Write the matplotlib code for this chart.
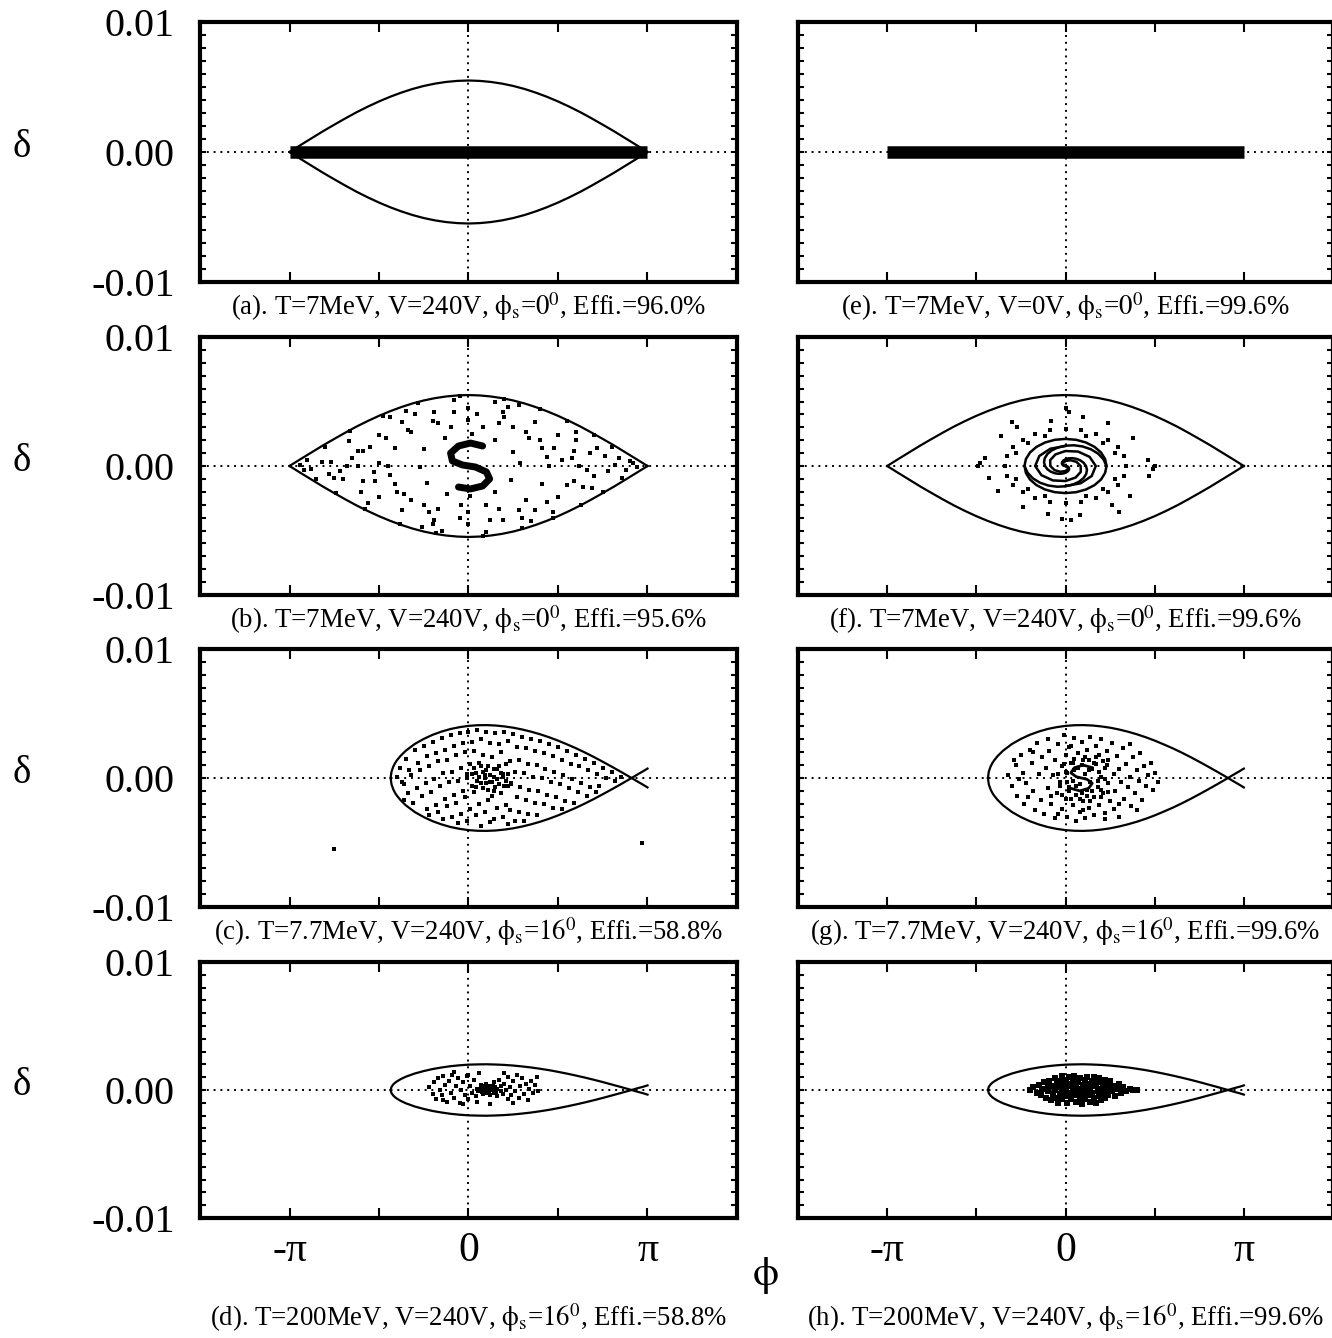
import numpy as np
import matplotlib
matplotlib.use('Agg')
import matplotlib.pyplot as plt
from matplotlib.ticker import MultipleLocator

plt.rcParams['font.family'] = ['Liberation Serif', 'DejaVu Serif']
plt.rcParams['mathtext.fontset'] = 'stix'

PI = np.pi
# phase values in percent of pi, energy deviation in units of 1e-4

# ---- separatrix, phi_s = 0 (upper half, phase >= 0, symmetric) ----
lens_phi = [0, 6.25, 12.5, 18.75, 25, 31.25, 37.5, 43.75, 50, 56.25, 62.5,
            68.75, 75, 81.25, 87.5, 93.75, 100]
lens_del = [55, 54.7, 53.9, 52.6, 50.8, 48.5, 45.7, 42.5, 38.9, 34.9, 30.6,
            25.9, 21.0, 16.0, 10.7, 5.4, 0]

# ---- separatrix, phi_s = 16 deg (upper branch) ----
buck_phi = [-43.5, -43, -42, -41, -40, -38, -35, -30, -25, -20, -15, -10, -5, 0,
            5, 10, 15, 20, 25, 30, 35, 40, 45, 50, 55, 60, 65, 70, 75, 80, 85,
            88, 91.1, 95, 97.5, 100]
buck_c = [0, 5.0, 8.9, 11.6, 13.7, 17.1, 21.2, 26.4, 30.3, 33.5, 36.0, 38.0, 39.4,
          40.4, 40.9, 41.0, 40.7, 40.0, 39.0, 37.6, 35.9, 33.9, 31.6, 29.0, 26.1,
          23.1, 19.8, 16.3, 12.6, 8.8, 4.9, 2.5, 0, -3.2, -5.2, -7.3]
buck_d = [0, 2.5, 4.4, 5.7, 6.7, 8.4, 10.4, 12.9, 14.8, 16.4, 17.6, 18.6, 19.3,
          19.8, 20.0, 20.1, 19.9, 19.6, 19.1, 18.4, 17.6, 16.6, 15.5, 14.2, 12.8,
          11.3, 9.7, 8.0, 6.2, 4.3, 2.4, 1.2, 0, -1.6, -2.5, -3.6]

# ---- initial line of particles (a), (e) ----
band_phi = [-100, 100]
band_del = [0, 0]

# ---- (b) particles ----
b_pts = [(29, 2), (25, 11), (15, 20), (2, 25), (-13, 22), (-25, 13), (-27, -1), (-23, -13),
         (-12, -22), (1, -23), (15, -20), (24, -11),
         (45, 0), (41, 14), (32, 26), (17, 33), (0, 36), (-17, 33), (-32, 26), (-41, 14),
         (-45, 0), (-41, -14), (-32, -26), (-17, -33), (0, -36), (17, -33), (32, -26),
         (41, -14), (44, 7), (-44, -7), (25, 30), (-25, -30),
         (62, 0), (59, 12), (50, 24), (37, 34), (19, 42), (0, 45), (-19, 42), (-37, 34),
         (-50, 24), (-59, 12), (-62, 0), (-59, -12), (-50, -24), (-37, -34), (-19, -42),
         (0, -45), (19, -42), (37, -34), (50, -24), (59, -12),
         (76, 8), (69, -17), (60, 26), (47, -36), (28, 47), (10, -51), (-8, 51), (-26, -47),
         (-44, 38), (-56, -29), (-67, 19), (-75, -9), (-77, 3), (72, 14), (-35, 43),
         (35, -43), (15, 50), (-15, -50),
         (90, 4), (86, -9), (80, 15), (75, -20), (70, 24), (63, -30), (55, 35), (47, -40),
         (40, 44), (30, -48), (20, 52), (8, -54), (-5, 54), (-18, -52), (-28, 49),
         (-38, -45), (-48, 39), (-58, -33), (-66, 27), (-74, -21), (-80, 15), (-85, -10),
         (-90, 5), (-94, 1), (94, -1),
         (-88, -2), (-82, 3), (-72, -4), (-65, 6), (-53, -5), (-50, 2), (52, 5), (66, -3),
         (82, 1), (88, -3), (70, -8), (-40, -20), (40, 20), (-30, 40), (30, -40),
         (-10, 30), (10, -30), (-55, 15), (55, -15), (-70, -10), (68, 10), (-20, -45),
         (22, 46), (5, 40), (-5, -40), (-60, -20), (60, 20),
         (-78, -6), (-62, 12), (-46, 22), (-34, 28), (-20, 35), (-8, 42), (8, 30), (20, 38),
         (34, 22), (48, 14), (58, 6), (78, -4), (64, -16), (44, -28), (28, -34), (12, -42),
         (-4, -30), (-22, -36), (-36, -22), (-52, -12), (-68, 0), (84, 6), (-92, -3), (92, 2)]
b_core = [(7.9, 15.5), (1.1, 17.8), (-5.6, 15.5), (-10, 10), (-9, 3.9), (-3.4, 0.8),
          (3.9, -0.8), (10, -4.6), (11.8, -10), (7.9, -15.5), (1.1, -17.8), (-5.6, -16.3)]

# ---- (c) particles ----
c_pts = [(-38, 8), (-36, -5), (-40, 1),
         (-35, 15), (-33, 6), (-37, -3), (-34, -12), (-36, -17),
         (-30, 22), (-28, 12), (-32, 2), (-29, -8), (-31, -19),
         (-25, 25), (-23, 17), (-27, 6), (-24, -4), (-26, -14), (-23, -24),
         (-20, 28), (-18, 19), (-22, 9), (-19, -1), (-21, -11), (-18, -21), (-22, -29),
         (-15, 31), (-13, 22), (-17, 13), (-14, 4), (-16, -6), (-13, -16), (-17, -26), (-14, -32),
         (-10, 33), (-8, 25), (-12, 14), (-9, 5), (-11, -3), (-8, -13), (-12, -22), (-9, -30),
         (-5, 35), (-3, 27), (-7, 18), (-4, 8), (-6, -2), (-3, -10), (-7, -19), (-4, -28), (-6, -35),
         (0, 36), (2, 28), (-2, 20), (1, 11), (-1, 3), (2, -6), (-2, -15), (1, -24), (-1, -33),
         (5, 37), (7, 30), (3, 21), (6, 12), (4, 4), (7, -4), (3, -11), (6, -20), (4, -29), (7, -37),
         (10, 36), (12, 27), (8, 18), (11, 9), (9, 2), (12, -3), (8, -8), (11, -17), (9, -26), (12, -34),
         (15, 35), (17, 26), (13, 16), (16, 7), (14, 1), (17, -5), (13, -14), (16, -23), (14, -32),
         (20, 36), (22, 29), (18, 20), (21, 11), (19, 3), (22, -6), (18, -12), (21, -21), (19, -30), (22, -36),
         (25, 34), (27, 24), (23, 13), (26, 5), (24, -4), (27, -15), (23, -25), (26, -33),
         (30, 32), (32, 23), (28, 14), (31, 4), (29, -7), (32, -17), (28, -26), (31, -33),
         (35, 30), (37, 21), (33, 11), (36, 1), (34, -9), (37, -19), (33, -28),
         (40, 29), (42, 19), (38, 10), (41, 0), (39, -10), (42, -20), (38, -29),
         (45, 26), (47, 17), (43, 7), (46, -3), (44, -13), (47, -23),
         (50, 24), (52, 14), (48, 5), (51, -5), (49, -15), (52, -24),
         (55, 21), (57, 11), (53, 2), (56, -8), (54, -18),
         (60, 18), (62, 9), (58, -1), (61, -11), (59, -19),
         (65, 15), (67, 6), (63, -4), (66, -14),
         (70, 12), (72, 3), (68, -7), (71, -11),
         (75, 8), (77, 0), (73, -6), (80, 5), (82, -2), (85, 1)]
c_core = [(2, 3), (5, -2), (8, 5), (10, -4), (12, 2), (14, 7), (16, -1), (18, 4), (20, -6),
          (7, 9), (11, -9), (15, -7), (4, -7), (9, 0), (13, -3), (17, 9), (19, 1), (6, 1),
          (22, 3), (3, 8), (21, -2), (10, 6), (14, -10), (-1, 0), (24, -5)]
c_out = [(-75, -55), (97, -50)]

# ---- (d) particles ----
d_pts = [(-22, 2), (-20, -3), (-19, 6), (-18, -7), (-17, 9), (-16, 0), (-15, -4), (-14, 11),
         (-13, 4), (-12, -9), (-11, 7), (-10, -2), (-9, 12), (-8, -6), (-7, 3), (-6, 9),
         (-5, -10), (-4, 0), (-3, 6), (-2, -4), (-1, 11), (0, -7), (1, 3), (2, -2), (3, 8),
         (4, -5), (5, 1), (6, -1), (7, 4), (8, -3), (8, 2), (9, 0), (10, -2), (10, 5),
         (11, 1), (12, -4), (12, 3), (13, 0), (14, 6), (14, -2), (15, 2), (16, -5), (16, 1),
         (17, 8), (18, -1), (18, 3), (19, -3), (20, 5), (21, 0), (22, -7), (22, 10), (23, 2),
         (24, -4), (25, 7), (26, -1), (27, 12), (28, -6), (29, 3), (30, 9), (31, -3), (32, 5),
         (33, -8), (34, 1), (35, 7), (36, -2), (37, 4), (38, 10), (39, -1), (-8, 14), (6, 13),
         (20, 13), (0, 12), (-14, -8), (5, -9), (25, -10), (12, -11), (-3, -11)]
d_core = [(6, 0), (9, 2), (11, -1), (13, 2), (15, -1), (8, -1), (12, 1), (10, 0)]

# ---- (f) particles ----
f_arm = [(0, 0), (0.93, -0.23), (1.66, -0.88), (2.03, -1.86), (1.92, -3.03), (1.24, -4.22),
         (0, -5.25), (-1.74, -5.92), (-3.83, -6.06), (-6.1, -5.57), (-8.3, -4.38),
         (-10.18, -2.49), (-11.5, 0), (-12.04, 2.95), (-11.62, 6.12), (-10.16, 9.28),
         (-7.67, 12.12), (-4.21, 14.36), (0, 15.75), (4.71, 16.06), (9.58, 15.15),
         (14.23, 12.99), (18.26, 9.63), (21.28, 5.21), (23, 0), (22.2, -5.4), (19.9, -10.5),
         (16.3, -14.8), (11.5, -18.2), (6, -20.3), (0, -21), (-6, -20.3), (-11.5, -18.2),
         (-16.3, -14.8), (-19.9, -10.5), (-22.2, -5.4), (-23, 0)]
f_arm_b = [(0, 0), (1.23, -0.65), (1.42, -2.24), (0, -3.88), (-2.83, -4.47), (-6.13, -3.23),
           (-8.5, 0), (-8.59, 4.52), (-5.67, 8.95), (0, 11.63), (7.08, 11.18), (13.5, 7.1),
           (17, 0), (14.7, -7.75), (8.5, -13.4), (0, -15.5)]
f_ring = [(34, 0), (33, 7.5), (29.4, 14.5), (24, 20.5), (17, 25), (8.8, 28), (0, 29),
          (-8.8, 28), (-17, 25), (-24, 20.5), (-29.4, 14.5), (-33, 7.5), (-34, 0),
          (-33, -7.5), (-29.4, -14.5), (-24, -20.5), (-17, -25), (-8.8, -28), (0, -29),
          (8.8, -28), (17, -25), (24, -20.5), (29.4, -14.5), (33, -7.5),
          (27.7, 9.8), (21.2, 18), (11.5, 23.6), (-11.5, 23.6), (-21.2, 18), (-27.7, 9.8),
          (-27.7, -9.8), (-21.2, -18), (-11.5, -23.6), (11.5, -23.6), (21.2, -18), (27.7, -9.8)]
f_dots = [(46, 5), (38, 22), (24, 33), (10, 38), (-8, 35), (-27, 30), (-36, 23), (-45, 6),
          (-43, -9), (-38, -19), (-24, -32), (-10, -37), (8, -38), (26, -30), (36, -23),
          (47, -8), (2, 42), (-2, -41), (50, 0), (-48, 2), (30, -36), (-30, 34), (0, 45),
          (3, -42), (-49, 0), (49, -2)]

# ---- (g) particles ----
g_pts = [(-32, 2), (-30, -6), (-28, 10), (-27, -14), (-25, 18), (-24, 4), (-23, -20), (-22, -4),
         (-20, 22), (-19, 12), (-18, -10), (-17, -25), (-16, 27), (-15, 3), (-14, -17),
         (-13, 16), (-12, -28), (-11, 8), (-10, 30), (-10, -8), (-9, 21), (-8, -20), (-7, 2),
         (-6, 14), (-6, -31), (-5, -12), (-4, 26), (-3, -3), (-2, 9), (-2, -24), (-1, 33),
         (0, 18), (0, -16), (1, 4), (1, -30), (2, -7), (3, 25), (3, 12), (4, -21), (4, -2),
         (5, 31), (5, 6), (6, -13), (6, -33), (7, 19), (8, -5), (8, -26), (9, 28), (9, 10),
         (10, -18), (11, 3), (11, -31), (12, 22), (12, -9), (13, 14), (13, -23), (14, 32),
         (14, -3), (15, 7), (16, -15), (16, -29), (17, 25), (17, 11), (18, -7), (19, 18),
         (19, -21), (20, 1), (20, 30), (21, -12), (22, 8), (22, -27), (23, 21), (24, -4),
         (24, 14), (25, -18), (26, 27), (27, 3), (27, -24), (28, -10), (29, 17), (30, 7),
         (30, -30), (31, -3), (32, 23), (33, -16), (34, 11), (35, -7), (36, 26), (36, 1),
         (37, -22), (38, 16), (39, -12), (40, 6), (41, -2), (42, 19), (43, -17), (44, 9),
         (45, -6), (46, 2), (48, 12), (49, -9), (50, 4), (52, -3), (-26, -1), (-21, -15),
         (-29, 14), (-18, 20), (-8, -14), (-4, -28), (2, 24), (10, -25), (22, -32),
         (30, -20), (40, -25),
         (0, 5), (2, -10), (4, 12), (6, -6), (7, 8), (9, -12), (10, 14), (12, -14), (13, 6),
         (15, -10), (16, 12), (18, -2), (19, 5), (20, -9), (21, 13), (22, -1), (23, 10),
         (-3, -6), (-1, 11), (-2, -13), (1, -3), (3, -16), (5, 15), (8, -16), (11, 16),
         (14, -18), (17, 16), (20, -15), (24, -11), (-4, 3)]
g_s = [(15, 8), (10, 10), (5, 8), (3, 4), (6, 1), (12, -1), (15, -4), (13, -8), (8, -10), (3, -8)]

# ---- (h) particles ----
h_pts = [(-20, 0), (-18, 2), (-16, -2), (-15, 4), (-14, -4), (-13, 1), (-12, 6), (-11, -6),
         (-10, 2), (-10, -1), (-9, 7), (-8, -8), (-8, 3), (-7, -3), (-6, 9), (-6, 0), (-5, -6),
         (-5, 5), (-4, -10), (-4, 2), (-3, 7), (-3, -3), (-2, 11), (-2, -7), (-1, 4), (-1, -1),
         (0, 8), (0, -5), (0, 1), (1, -10), (1, 5), (2, -2), (2, 10), (3, 3), (3, -7), (4, 7),
         (4, -1), (5, -4), (5, 11), (6, 2), (6, -9), (7, 6), (7, -2), (8, -6), (8, 9), (9, 1),
         (9, -11), (10, 4), (10, -3), (11, 8), (11, -7), (12, 0), (12, 10), (13, -4), (13, 5),
         (14, -9), (14, 2), (15, 7), (15, -2), (16, -6), (16, 10), (17, 3), (17, -10),
         (18, -1), (18, 6), (19, -5), (19, 9), (20, 1), (20, -8), (21, 5), (21, -3), (22, 8),
         (22, -6), (23, 0), (24, 4), (24, -4), (25, 7), (26, -1), (27, 3), (28, -5), (29, 1),
         (30, 5), (31, -2), (32, 2), (34, -1), (36, 1), (38, 0), (40, 0), (-2, 0), (4, 3),
         (8, 0), (11, 2), (14, -1)]

PH = r"$\mathrm{\phi}_\mathrm{s}$"
captions = {
    'a': "(a). T=7MeV, V=240V, " + PH + "=$0^0$, Effi.=96.0%",
    'b': "(b). T=7MeV, V=240V, " + PH + "=$0^0$, Effi.=95.6%",
    'c': "(c). T=7.7MeV, V=240V, " + PH + "=$16^0$, Effi.=58.8%",
    'd': "(d). T=200MeV, V=240V, " + PH + "=$16^0$, Effi.=58.8%",
    'e': "(e). T=7MeV, V=0V, " + PH + "=$0^0$, Effi.=99.6%",
    'f': "(f). T=7MeV, V=240V, " + PH + "=$0^0$, Effi.=99.6%",
    'g': "(g). T=7.7MeV, V=240V, " + PH + "=$16^0$, Effi.=99.6%",
    'h': "(h). T=200MeV, V=240V, " + PH + "=$16^0$, Effi.=99.6%",
}
ytick_vals = [-0.01, 0.0, 0.01]
ytick_labels = ['-0.01', '0.00', '0.01']
xtick_labels = ['-\u03c0', '', '0', '', '\u03c0']


def X(v):
    return np.asarray(v, dtype=float) * PI / 100.0


def Y(v):
    return np.asarray(v, dtype=float) * 1e-4


def xy(pts):
    p = np.asarray(pts, dtype=float)
    return X(p[:, 0]), Y(p[:, 1])


W, H = 1332, 1338
fig = plt.figure(figsize=(W / 100, H / 100), dpi=100)

rows_px = [(22, 282), (337, 595), (649, 907), (962, 1218)]
cols_px = [(200, 737), (798, 1333)]
names = [['a', 'b', 'c', 'd'], ['e', 'f', 'g', 'h']]

LW = 1.6
MS = 2.4


def draw_lens(ax):
    ph = [-p for p in lens_phi[::-1]] + lens_phi[1:]
    de = lens_del[::-1] + lens_del[1:]
    ax.plot(X(ph), Y(de), color='k', lw=LW)
    ax.plot(X(ph), -Y(de), color='k', lw=LW)


def draw_bucket(ax, dvals):
    ax.plot(X(buck_phi), Y(dvals), color='k', lw=LW)
    ax.plot(X(buck_phi), -Y(dvals), color='k', lw=LW)


def dots(ax, pts, ms=MS, marker='s'):
    x, y = xy(pts)
    ax.plot(x, y, ls='none', marker=marker, ms=ms, color='k', mew=0)


axes = {}
for ci, (x0, x1) in enumerate(cols_px):
    for ri, (y0, y1) in enumerate(rows_px):
        ax = fig.add_axes([x0 / W, 1 - y1 / H, (x1 - x0) / W, (y1 - y0) / H])
        axes[names[ci][ri]] = (ax, ci, ri)
        ax.set_xlim(-1.5 * PI, 1.5 * PI)
        ax.set_ylim(-0.01, 0.01)
        for s in ax.spines.values():
            s.set_linewidth(3)
        ax.axhline(0, color='k', lw=1.4, ls=(0, (1, 2.5)), zorder=0)
        ax.axvline(0, color='k', lw=1.4, ls=(0, (1, 2.5)), zorder=0)
        ax.set_xticks([-PI, -PI / 2, 0, PI / 2, PI])
        ax.set_yticks(ytick_vals)
        ax.yaxis.set_minor_locator(MultipleLocator(0.001))
        ax.tick_params(axis='x', which='major', direction='in', top=True, bottom=True,
                       length=7, width=1.5, labelsize=30, pad=10)
        ax.tick_params(axis='y', which='both', direction='in', left=True, right=True,
                       length=4.5, width=1.5, labelsize=29, pad=18)
        if ri == 3:
            ax.set_xticklabels(xtick_labels)
        else:
            ax.set_xticklabels([''] * 5)
        if ci == 0:
            ax.set_yticklabels(ytick_labels)
        else:
            ax.set_yticklabels([''] * 3)
        cx = (x0 + x1) / 2 / W
        cy = (y1 + 25) / H if ri < 3 else 1318 / H
        fig.text(cx, 1 - cy, captions[names[ci][ri]], ha='center', va='center', fontsize=19.3)

# delta labels
for (y0, y1) in rows_px:
    fig.text(22 / W, 1 - ((y0 + y1) / 2 + 5) / H, '\u03b4', ha='center', va='baseline', fontsize=28)
fig.text(765 / W, 1 - 1275 / H, r'$\mathrm{\phi}$', ha='center', va='center', fontsize=30)

# (a)
ax = axes['a'][0]
draw_lens(ax)
ax.plot(X(band_phi), Y(band_del), color='k', lw=9, solid_capstyle='butt')
# (e)
ax = axes['e'][0]
ax.plot(X(band_phi), Y(band_del), color='k', lw=9, solid_capstyle='butt')
# (b)
ax = axes['b'][0]
draw_lens(ax)
dots(ax, b_pts)
bx, by = xy(b_core)
ax.plot(bx, by, color='k', lw=5, solid_capstyle='round', solid_joinstyle='round')
# (f)
ax = axes['f'][0]
draw_lens(ax)
for arm in (f_arm, f_arm_b):
    ax_, ay_ = xy(arm)
    ax.plot(ax_, ay_, color='k', lw=1.8)
    ax.plot(-ax_, -ay_, color='k', lw=1.8)
dots(ax, f_ring, ms=2.8)
dots(ax, f_dots, ms=2.6)
# (c)
ax = axes['c'][0]
draw_bucket(ax, buck_c)
dots(ax, c_pts)
dots(ax, c_core, ms=3.2)
dots(ax, c_out, ms=2.5)
# (g)
ax = axes['g'][0]
draw_bucket(ax, buck_c)
dots(ax, g_pts, ms=2.8)
sx, sy = xy(g_s)
ax.plot(sx, sy, color='k', lw=2)
# (d)
ax = axes['d'][0]
draw_bucket(ax, buck_d)
dots(ax, d_pts, ms=2.6)
dots(ax, d_core, ms=4.5)
# (h)
ax = axes['h'][0]
draw_bucket(ax, buck_d)
dots(ax, h_pts, ms=4.0)

fig.savefig('out.png', dpi=100)
